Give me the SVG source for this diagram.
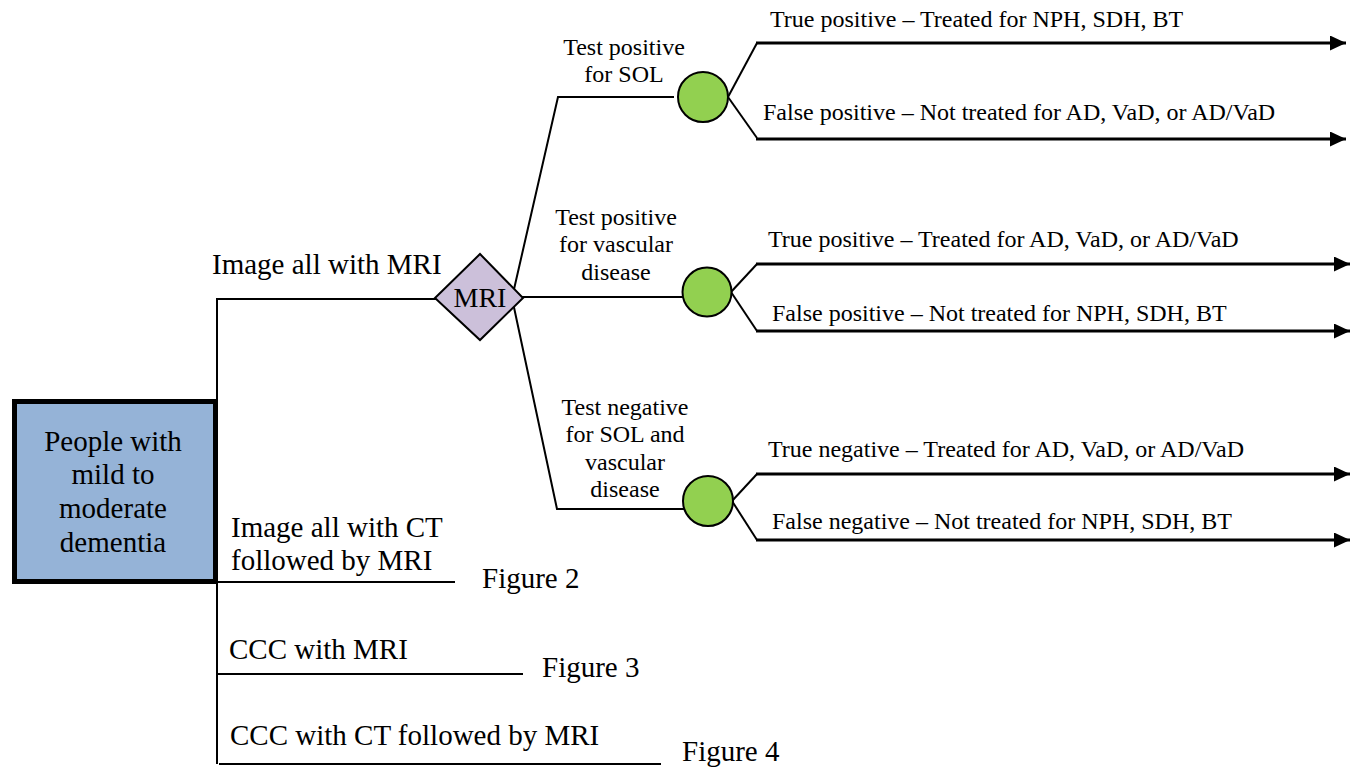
<svg xmlns="http://www.w3.org/2000/svg" width="1354" height="774" viewBox="0 0 1354 774" font-family="'Liberation Serif', 'Times New Roman', serif">
<defs>
<marker id="arr" viewBox="0 0 16 15" refX="16" refY="7.5" markerWidth="16" markerHeight="15" markerUnits="userSpaceOnUse" orient="auto">
<path d="M0,0 L16,7.5 L0,15 Z" fill="#000"/>
</marker>
<style>
text{font-family:"Liberation Serif","Times New Roman",serif;fill:#000}
.big{font-size:29px}
.sm{font-size:24px}
.mid{text-anchor:middle}
.ln{stroke:#000;stroke-width:2;fill:none}
.out{stroke:#000;stroke-width:3;fill:none;marker-end:url(#arr)}
.chance{fill:#92D050;stroke:#000;stroke-width:2}
</style>
</defs>
<rect width="1354" height="774" fill="#fff"/>
<g id="connectors">
<path class="ln" d="M217,298 V764"/>
<path class="ln" d="M217,299 H437"/>
<path class="ln" d="M512,298 L558,97 H674"/>
<path class="ln" d="M520,297 H684"/>
<path class="ln" d="M512,298 L557,509 H685"/>
<path class="ln" d="M217,582 H455"/>
<path class="ln" d="M217,674 H523"/>
<path class="ln" d="M219,764 H661"/>
<path class="ln" d="M728,97 L757,43"/>
<path class="ln" d="M728,97 L757,138"/>
<path class="ln" d="M731,292 L757,264"/>
<path class="ln" d="M731,292 L757,331"/>
<path class="ln" d="M732,501 L757,474"/>
<path class="ln" d="M732,501 L757,540"/>
<path class="out" d="M756,43 H1346"/>
<path class="out" d="M756,139 H1346"/>
<path class="out" d="M756,264 H1350"/>
<path class="out" d="M756,331 H1350"/>
<path class="out" d="M756,474 H1350"/>
<path class="out" d="M756,540 H1350"/>
</g>
<g id="start">
<rect x="14.5" y="401.5" width="201" height="180" fill="#95B3D7" stroke="#000" stroke-width="5"/>
<text class="big mid" x="113" y="451">People with</text>
<text class="big mid" x="113" y="484">mild to</text>
<text class="big mid" x="113" y="518">moderate</text>
<text class="big mid" x="113" y="552">dementia</text>
</g>
<g id="mri">
<path d="M435,298 L480,254 L523,298 L480,340 Z" fill="#CCC0DA" stroke="#000" stroke-width="2"/>
<text class="mid" x="480" y="307" style="font-size:28px">MRI</text>
</g>
<g id="chance1"><circle class="chance" cx="703" cy="97" r="25"/></g>
<g id="chance2"><circle class="chance" cx="707" cy="292" r="24.5"/></g>
<g id="chance3"><circle class="chance" cx="708" cy="501" r="25"/></g>
<g id="labels">
<text class="big" x="212" y="274">Image all with MRI</text>
<text class="sm mid" x="624" y="55">Test positive</text>
<text class="sm mid" x="624" y="82">for SOL</text>
<text class="sm mid" x="616" y="225">Test positive</text>
<text class="sm mid" x="616" y="252">for vascular</text>
<text class="sm mid" x="616" y="280">disease</text>
<text class="sm mid" x="625" y="415">Test negative</text>
<text class="sm mid" x="625" y="442">for SOL and</text>
<text class="sm mid" x="625" y="470">vascular</text>
<text class="sm mid" x="625" y="497">disease</text>
<text class="sm" x="770" y="27">True positive – Treated for NPH, SDH, BT</text>
<text class="sm" x="763" y="120">False positive – Not treated for AD, VaD, or AD/VaD</text>
<text class="sm" x="768" y="247">True positive – Treated for AD, VaD, or AD/VaD</text>
<text class="sm" x="772" y="321">False positive – Not treated for NPH, SDH, BT</text>
<text class="sm" x="768" y="457">True negative – Treated for AD, VaD, or AD/VaD</text>
<text class="sm" x="772" y="529">False negative – Not treated for NPH, SDH, BT</text>
<text class="big" x="231" y="537">Image all with CT</text>
<text class="big" x="231" y="570">followed by MRI</text>
<text class="big" x="482" y="588">Figure 2</text>
<text class="big" x="229" y="659">CCC with MRI</text>
<text class="big" x="542" y="677">Figure 3</text>
<text class="big" x="230" y="745">CCC with CT followed by MRI</text>
<text class="big" x="682" y="761">Figure 4</text>
</g>
</svg>
